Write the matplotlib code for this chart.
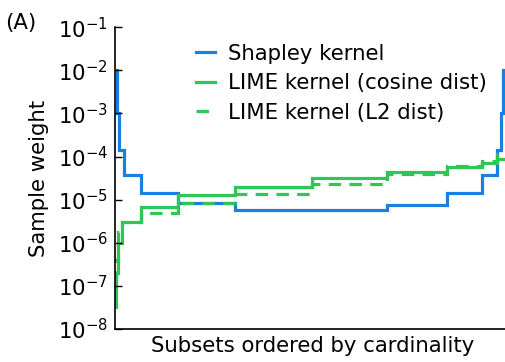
import matplotlib
matplotlib.use("Agg")
import matplotlib.pyplot as plt
import numpy as np

# x edges: positions of subsets ordered by cardinality (arbitrary index units)
shap_edges = [0, 2, 4, 9, 26, 63, 120, 272, 332, 367, 382, 386, 388, 395]
shap_vals  = [1e-2, 1e-3, 1.4e-4, 3.7e-5, 1.45e-5, 8.3e-6, 5.9e-6, 7.7e-6,
              1.45e-5, 3.7e-5, 1.4e-4, 1e-3, 1e-2]

lime_cos_edges = [0, 1.5, 3, 7, 26, 63, 120, 197, 272, 332, 367, 382, 395]
lime_cos_vals  = [3.2e-8, 2e-7, 1.0e-6, 3.0e-6, 6.8e-6, 1.26e-5, 2.0e-5,
                  3.1e-5, 4.4e-5, 5.7e-5, 6.9e-5, 8.9e-5]

lime_l2_edges = [0, 1.5, 3, 7, 26, 63, 120, 197, 272, 332, 367, 382, 395]
lime_l2_vals  = [4e-8, 4e-7, 1.8e-6, 3.0e-6, 4.8e-6, 8.5e-6, 1.38e-5,
                 2.3e-5, 4.0e-5, 6.0e-5, 8.0e-5, 1.15e-4]

labels = ["Shapley kernel", "LIME kernel (cosine dist)", "LIME kernel (L2 dist)"]
blue = "#1a7fe0"
green = "#2ec654"

fig = plt.figure(figsize=(5.06, 3.62), dpi=100)
ax = fig.add_axes([0.227, 0.091, 0.781, 0.834])

lw = 2.3
ax.stairs(shap_vals, shap_edges, color=blue, lw=lw, label=labels[0], baseline=None)
ax.stairs(lime_cos_vals, lime_cos_edges, color=green, lw=lw, label=labels[1], baseline=None)
ax.stairs(lime_l2_vals, lime_l2_edges, color=green, lw=lw, linestyle=(0, (3.9, 2.6)),
          label=labels[2], baseline=None)

ax.set_yscale("log")
ax.set_ylim(1e-8, 1e-1)
ax.set_xlim(0, 395)
ax.set_yticks([10.0**k for k in range(-8, 0)])
ax.tick_params(axis="y", which="major", direction="in", length=5, width=1,
               labelsize=15.3, pad=5)
ax.tick_params(axis="y", which="minor", direction="in", length=3, width=0.8)
ax.set_xticks([])
for s in ["top", "right"]:
    ax.spines[s].set_visible(False)
ax.spines["left"].set_linewidth(1.2)
ax.spines["bottom"].set_linewidth(1.2)

ax.set_ylabel("Sample weight", fontsize=15.3, labelpad=6)
ax.set_xlabel("Subsets ordered by cardinality", fontsize=15.3, labelpad=5)
fig.text(0.01, 0.92, "(A)", fontsize=15.3)

ax.legend(loc="upper left", bbox_to_anchor=(0.205, 0.945), frameon=False, fontsize=15.3,
          handlelength=0.9, handletextpad=0.6, labelspacing=0.45, borderaxespad=0,
          borderpad=0)

fig.savefig("out.png", dpi=100)
